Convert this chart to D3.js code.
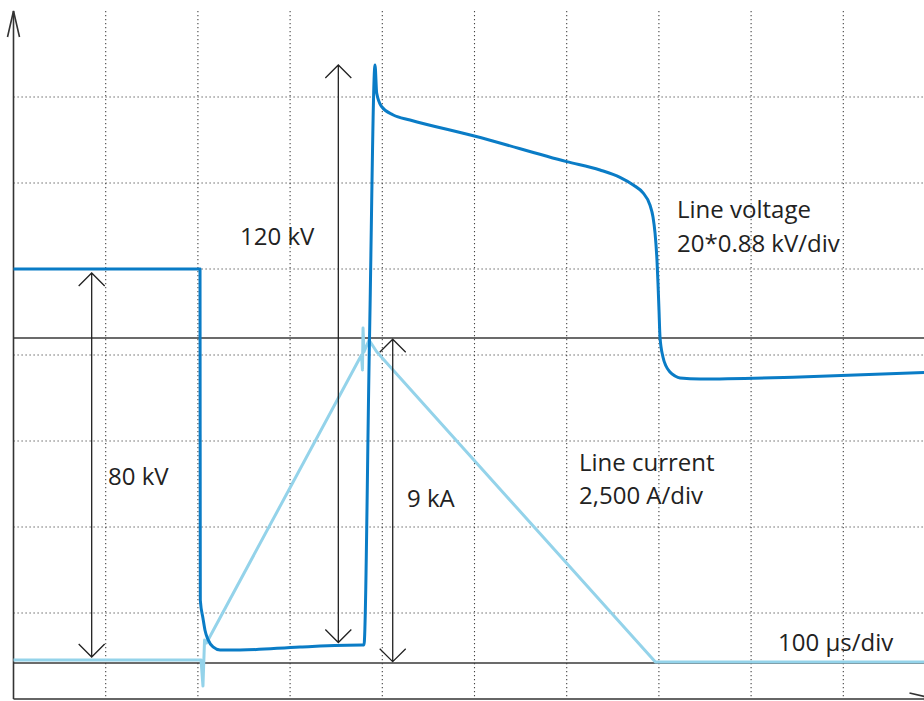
<!DOCTYPE html>
<html>
<head>
<meta charset="utf-8">
<script src="https://cdn.jsdelivr.net/npm/d3@7"></script>
<style>
  body { margin: 0; background: #fff; }
  svg text { font-family: "Open Sans", "Noto Sans", sans-serif; font-size: 24px; fill: #222; }
</style>
</head>
<body>
<div id="chart-area"></div>
<script>
// oscilloscope trace, time in µs, signal in screen divisions
let voltageTime = [0, 202.3, 202.6, 205.5, 207.7, 211.0, 216.4, 224.0, 245.7, 310.7, 377.9, 380.1,
	386.1, 392.1, 393.9, 399.3, 411.9, 430.0, 499.8, 600.0, 636.1, 657.8, 672.2, 682.8, 690.3,
	693.6, 695.8, 697.9, 699.0, 700.1, 701.2, 704.4, 707.7, 712.0, 717.5, 722.9, 744.6, 853.0, 1000];
let voltageDiv = [5.0, 5.0, 1.15, 0.94, 0.80, 0.69, 0.605, 0.57, 0.57, 0.605, 0.628, 0.628,
	4.174, 7.372, 7.047, 6.887, 6.791, 6.733, 6.547, 6.248, 6.151, 6.066, 5.977, 5.884, 5.744,
	5.605, 5.419, 5.105, 4.837, 4.523, 4.209, 3.977, 3.872, 3.802, 3.756, 3.733, 3.721, 3.744, 3.80];

let currentTime = [0, 203.4, 205.5, 207.2, 209.3, 377.4, 378.5, 379.1, 380.1, 385.6, 393.9, 696.2, 1000];
let currentDiv  = [0.453, 0.453, 0.151, 0.686, 0.651, 4.0, 3.826, 4.314, 4.035, 4.174, 4.038, 0.43, 0.43];

// reference (zero) levels drawn as solid lines
let refLevels = [4.198, 0.419];

// dimension arrows: time, from div, to div, label
let arrowTime  = [84.8, 352.3, 411.3];
let arrowFrom  = [4.953, 7.372, 4.183];
let arrowTo    = [0.488, 0.657, 0.434];
let arrowLabel = ["80 kV", "120 kV", "9 kA"];

let width  = 924,
	height = 701;

let x = d3.scaleLinear().domain([0, 1000]).range([13.5, 935.5]);
let y = d3.scaleLinear().domain([0, 8]).range([699, 11]);

let svg = d3.select("#chart-area")
	.append("svg")
	.attr("width", width)
	.attr("height", height);

// dotted grid
svg.append("g")
	.selectAll("line")
	.data(d3.range(1, 10))
	.enter()
	.append("line")
	.attr("x1", d => x(d * 100))
	.attr("x2", d => x(d * 100))
	.attr("y1", y(8))
	.attr("y2", y(0))
	.attr("stroke", "#444")
	.attr("stroke-width", 1.1)
	.attr("stroke-dasharray", "1.2,2.8");

svg.append("g")
	.selectAll("line")
	.data(d3.range(1, 8))
	.enter()
	.append("line")
	.attr("x1", x(0))
	.attr("x2", width)
	.attr("y1", d => y(d))
	.attr("y2", d => y(d))
	.attr("stroke", "#444")
	.attr("stroke-width", 1.1)
	.attr("stroke-dasharray", "1.2,2.8");

// reference levels
svg.selectAll(".ref")
	.data(refLevels)
	.enter()
	.append("line")
	.attr("class", "ref")
	.attr("x1", x(0))
	.attr("x2", width)
	.attr("y1", d => y(d))
	.attr("y2", d => y(d))
	.attr("stroke", "#3a3a3a")
	.attr("stroke-width", 1.4);

// axes with arrow heads
let axisColor = "#333";
svg.append("line")
	.attr("x1", x(0)).attr("x2", x(0))
	.attr("y1", y(8)).attr("y2", y(0))
	.attr("stroke", axisColor).attr("stroke-width", 1.6);
svg.append("path")
	.attr("d", `M${x(0) - 6},${y(8) + 26}L${x(0)},${y(8)}L${x(0) + 6},${y(8) + 26}`)
	.attr("fill", "none").attr("stroke", axisColor).attr("stroke-width", 1.6);
svg.append("line")
	.attr("x1", x(0)).attr("x2", x(1000))
	.attr("y1", y(0)).attr("y2", y(0))
	.attr("stroke", axisColor).attr("stroke-width", 1.6);
svg.append("path")
	.attr("d", `M${x(1000) - 26},${y(0) - 6}L${x(1000)},${y(0)}L${x(1000) - 26},${y(0) + 6}`)
	.attr("fill", "none").attr("stroke", axisColor).attr("stroke-width", 1.6);

// traces
let current = currentTime.map((t, i) => [t, currentDiv[i]]);
let voltage = voltageTime.map((t, i) => [t, voltageDiv[i]]);

svg.append("path")
	.datum(current)
	.attr("d", d3.line().x(d => x(d[0])).y(d => y(d[1])))
	.attr("fill", "none")
	.attr("stroke", "#94d3ea")
	.attr("stroke-width", 3)
	.attr("stroke-linejoin", "round");

svg.append("path")
	.datum(voltage)
	.attr("d", d3.line().x(d => x(d[0])).y(d => y(d[1])).curve(d3.curveMonotoneX))
	.attr("fill", "none")
	.attr("stroke", "#0a7cc6")
	.attr("stroke-width", 3)
	.attr("stroke-linejoin", "round");

// dimension arrows
arrowTime.forEach((t, i) => {
	let ax = x(t), y1 = y(arrowFrom[i]), y2 = y(arrowTo[i]);
	svg.append("path")
		.attr("d", `M${ax},${y1}L${ax},${y2}` +
			`M${ax - 13},${y1 + 13}L${ax},${y1}L${ax + 13},${y1 + 13}` +
			`M${ax - 13},${y2 - 13}L${ax},${y2}L${ax + 13},${y2 - 13}`)
		.attr("fill", "none")
		.attr("stroke", "#222")
		.attr("stroke-width", 1.3);
});

// labels
svg.append("text").text(arrowLabel[0]).attr("x", 108).attr("y", 485);
svg.append("text").text(arrowLabel[1]).attr("x", 240).attr("y", 245);
svg.append("text").text(arrowLabel[2]).attr("x", 407).attr("y", 507);

svg.append("text").text("Line voltage").attr("x", 677).attr("y", 218);
svg.append("text").text("20*0.88 kV/div").attr("x", 677).attr("y", 252);
svg.append("text").text("Line current").attr("x", 579).attr("y", 471);
svg.append("text").text("2,500 A/div").attr("x", 579).attr("y", 504);
svg.append("text").text("100 µs/div").attr("x", 778).attr("y", 651);
</script>
</body>
</html>
